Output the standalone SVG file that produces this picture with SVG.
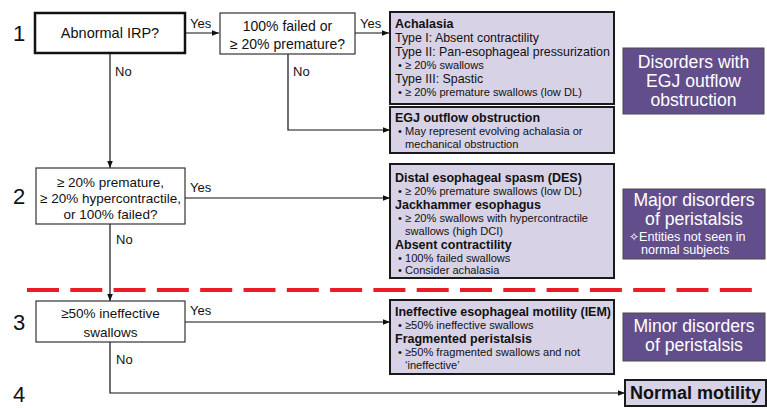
<svg xmlns="http://www.w3.org/2000/svg" width="767" height="408" viewBox="0 0 767 408">
<defs>
<marker id="ah" viewBox="0 0 10 10" refX="10" refY="5" markerWidth="7" markerHeight="7" markerUnits="userSpaceOnUse" orient="auto">
<path d="M0,1 L10,5 L0,9 Z" fill="#111"/>
</marker>
<style>
text{font-family:"Liberation Sans",Arial,sans-serif;fill:#111}
.num{font-size:22px}
.q{font-size:14px;text-anchor:middle}
.lbl{font-size:13px}
.dx{fill:#fff;stroke:#333;stroke-width:1.2}
.dx1{fill:#fff;stroke:#111;stroke-width:2.5}
.res{fill:#d8d2e6;stroke:#1a1a1a;stroke-width:2}
.h{font-size:12.5px;font-weight:bold}
.t{font-size:12.4px}
.b{font-size:11.1px}
.cat{fill:#624e8b;stroke:#4a4a4a;stroke-width:1}
.ct{font-size:17.6px;fill:#fff;text-anchor:middle}
.cs{font-size:12.6px;fill:#fff}
.ln{fill:none;stroke:#111;stroke-width:1.2}
</style>
</defs>
<rect width="767" height="408" fill="#fff"/>

<g id="steps">
<text class="num" x="13" y="41">1</text>
<text class="num" x="13" y="204">2</text>
<text class="num" x="13" y="330">3</text>
<text class="num" x="13" y="402">4</text>
</g>

<line x1="27" y1="290" x2="754" y2="290" stroke="#ec1c24" stroke-width="4" stroke-dasharray="32 11.3"/>

<g id="connectors">
<path class="ln" d="M185,33 H219" marker-end="url(#ah)"/>
<path class="ln" d="M355,33 H389" marker-end="url(#ah)"/>
<path class="ln" d="M288,54 V130 H390" marker-end="url(#ah)"/>
<path class="ln" d="M110,53 V168" marker-end="url(#ah)"/>
<path class="ln" d="M185,198 H390" marker-end="url(#ah)"/>
<path class="ln" d="M110,224 V301" marker-end="url(#ah)"/>
<path class="ln" d="M185,322 H390" marker-end="url(#ah)"/>
<path class="ln" d="M110,342 V393 H625" marker-end="url(#ah)"/>
<text class="lbl" x="190" y="28">Yes</text>
<text class="lbl" x="360" y="28">Yes</text>
<text class="lbl" x="115" y="76">No</text>
<text class="lbl" x="293" y="76">No</text>
<text class="lbl" x="190" y="192">Yes</text>
<text class="lbl" x="116" y="244">No</text>
<text class="lbl" x="190" y="315">Yes</text>
<text class="lbl" x="116" y="364">No</text>
</g>

<g id="q1">
<rect class="dx1" x="35" y="13" width="150" height="40"/>
<text class="q" x="110" y="38" style="font-size:14.5px">Abnormal IRP?</text>
</g>
<g id="q1b">
<rect class="dx" x="220" y="13" width="135" height="41"/>
<text class="q" x="287.5" y="31">100% failed or</text>
<text class="q" x="287.5" y="49">≥ 20% premature?</text>
</g>
<g id="q2">
<rect class="dx" x="36" y="168" width="149" height="56"/>
<text class="q" x="110.5" y="187" style="font-size:13.5px">≥ 20% premature,</text>
<text class="q" x="110.5" y="203" style="font-size:13.5px">≥ 20% hypercontractile,</text>
<text class="q" x="110.5" y="219" style="font-size:13.5px">or 100% failed?</text>
</g>
<g id="q3">
<rect class="dx" x="36" y="301" width="149" height="41"/>
<text class="q" x="110.5" y="318" style="font-size:13.5px">≥50% ineffective</text>
<text class="q" x="110.5" y="337" style="font-size:13.5px">swallows</text>
</g>

<g id="achalasia">
<rect class="res" x="390" y="12" width="224" height="92"/>
<text class="h" x="395" y="28">Achalasia</text>
<text class="t" x="395" y="42">Type I: Absent contractility</text>
<text class="t" x="395" y="56">Type II: Pan-esophageal pressurization</text>
<text class="b" x="398" y="69">• ≥ 20% swallows</text>
<text class="t" x="395" y="83">Type III: Spastic</text>
<text class="b" x="398" y="96">• ≥ 20% premature swallows (low DL)</text>
</g>
<g id="egj">
<rect class="res" x="390" y="107" width="224" height="46"/>
<text class="h" x="395" y="122">EGJ outflow obstruction</text>
<text class="b" x="398" y="135">• May represent evolving achalasia or</text>
<text class="b" x="405" y="148">mechanical obstruction</text>
</g>
<g id="major">
<rect class="res" x="390" y="164" width="224" height="114"/>
<text class="h" x="395" y="182">Distal esophageal spasm (DES)</text>
<text class="b" x="398" y="195">• ≥ 20% premature swallows (low DL)</text>
<text class="h" x="395" y="209">Jackhammer esophagus</text>
<text class="b" x="398" y="222">• ≥ 20% swallows with hypercontractile</text>
<text class="b" x="405" y="234.5">swallows (high DCI)</text>
<text class="h" x="395" y="248.5">Absent contractility</text>
<text class="b" x="398" y="261.5">• 100% failed swallows</text>
<text class="b" x="398" y="274">• Consider achalasia</text>
</g>
<g id="minor">
<rect class="res" x="390" y="300" width="224" height="74"/>
<text class="h" x="395" y="316">Ineffective esophageal motility (IEM)</text>
<text class="b" x="398" y="329">• ≥50% ineffective swallows</text>
<text class="h" x="395" y="343">Fragmented peristalsis</text>
<text class="b" x="398" y="356">• ≥50% fragmented swallows and not</text>
<text class="b" x="405" y="368.5">‘ineffective’</text>
</g>
<g id="normal">
<rect class="res" x="625" y="380" width="141" height="26"/>
<text x="695.5" y="399" style="font-size:18px;font-weight:bold;text-anchor:middle">Normal motility</text>
</g>

<g id="cat1">
<rect class="cat" x="623" y="48" width="141" height="66"/>
<text class="ct" x="693.5" y="68">Disorders with</text>
<text class="ct" x="693.5" y="87">EGJ outflow</text>
<text class="ct" x="693.5" y="106">obstruction</text>
</g>
<g id="cat2">
<rect class="cat" x="623" y="189" width="142" height="70"/>
<text class="ct" x="694" y="206">Major disorders</text>
<text class="ct" x="694" y="224.5">of peristalsis</text>
<text class="cs" x="629" y="241"><tspan style="font-family:'DejaVu Sans',sans-serif;font-size:12px">✧</tspan>Entities not seen in</text>
<text class="cs" x="641" y="254">normal subjects</text>
</g>
<g id="cat3">
<rect class="cat" x="623" y="313" width="142" height="48"/>
<text class="ct" x="694" y="332">Minor disorders</text>
<text class="ct" x="694" y="351">of peristalsis</text>
</g>
</svg>
